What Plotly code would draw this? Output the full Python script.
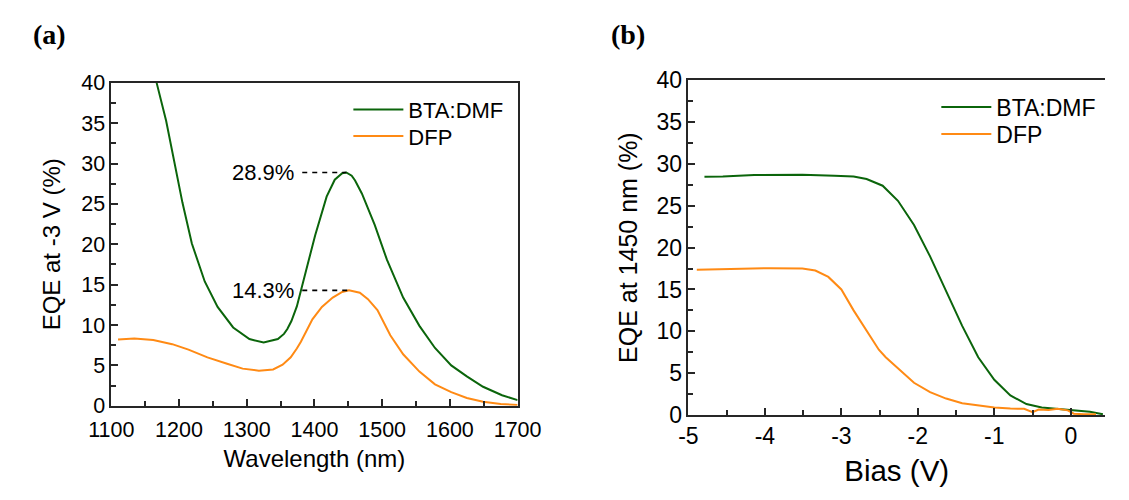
import plotly.graph_objects as go

# ---------------- data: panel (a) ----------------
wl_bta = [1160, 1167, 1181, 1193, 1205, 1219, 1238, 1257, 1280, 1304, 1325, 1346,
          1355, 1360, 1366, 1374, 1380, 1390, 1401, 1418, 1430, 1441, 1447, 1455,
          1460, 1470, 1489, 1507, 1531, 1555, 1578, 1602, 1625, 1649, 1677, 1700]
eqe_bta = [42.6, 40.0, 35.3, 30.3, 25.2, 20.1, 15.4, 12.25, 9.7, 8.26, 7.83, 8.26,
           8.9, 9.5, 10.5, 12.3, 14.3, 17.5, 21.1, 25.9, 28.0, 28.8, 28.9, 28.5,
           27.9, 26.3, 22.4, 18.1, 13.4, 9.9, 7.16, 5.0, 3.64, 2.35, 1.3, 0.7]

wl_dfp = [1110, 1134, 1162, 1190, 1214, 1242, 1271, 1294, 1318, 1339, 1353, 1365,
          1374, 1380, 1397, 1411, 1427, 1441, 1451, 1467, 1479, 1493, 1512, 1531,
          1555, 1578, 1602, 1625, 1649, 1675, 1700]
eqe_dfp = [8.2, 8.33, 8.14, 7.63, 6.96, 5.99, 5.2, 4.6, 4.34, 4.5, 5.08, 6.0,
           7.1, 7.94, 10.7, 12.25, 13.4, 14.1, 14.3, 14.0, 13.2, 11.86, 8.73, 6.38,
           4.23, 2.66, 1.68, 0.97, 0.5, 0.22, 0.1]

peak_bta = 28.9
peak_bta_wl = 1447
peak_dfp = 14.3
peak_dfp_wl = 1449
guide_start_wl = 1382

wl_ticks = [1100, 1200, 1300, 1400, 1500, 1600, 1700]
eqe_ticks = [0, 5, 10, 15, 20, 25, 30, 35, 40]

# ---------------- data: panel (b) ----------------
bias_bta = [-4.79, -4.55, -4.14, -3.51, -3.09, -2.84, -2.67, -2.46, -2.26, -2.05,
            -1.84, -1.63, -1.42, -1.21, -1.0, -0.79, -0.58, -0.38, 0.0, 0.25, 0.42]
eqe1450_bta = [28.48, 28.5, 28.67, 28.7, 28.6, 28.5, 28.2, 27.4, 25.6, 22.7,
               18.96, 14.8, 10.65, 6.9, 4.2, 2.34, 1.3, 0.9, 0.64, 0.38, 0.08]

bias_dfp = [-4.89, -4.34, -3.93, -3.51, -3.34, -3.17, -3.0, -2.84, -2.67, -2.51,
            -2.42, -2.26, -2.05, -1.84, -1.63, -1.42, -1.21, -1.0, -0.79, -0.61,
            -0.5, -0.42, -0.29, -0.17, -0.04, 0.04, 0.17, 0.33]
eqe1450_dfp = [17.37, 17.5, 17.55, 17.5, 17.26, 16.5, 15.0, 12.5, 10.1, 7.8,
               6.9, 5.55, 3.85, 2.72, 1.96, 1.39, 1.1, 0.9, 0.76, 0.73,
               0.34, 0.64, 0.6, 0.73, 0.55, 0.15, 0.08, 0.08]

bias_ticks = [-5, -4, -3, -2, -1, 0]
bias_ticktext = ["-5", "-4", "-3", "-2", "-1", "0"]

names = ["BTA:DMF", "DFP"]
GREEN = "#0b650b"
ORANGE = "#ff8a14"
FONT = "Liberation Sans, Arial, sans-serif"
SERIF = "Liberation Serif, Times New Roman, serif"
AXC = "#262626"

W, H = 1129, 500
fig = go.Figure()

fig.add_trace(go.Scatter(x=wl_bta, y=eqe_bta, mode="lines", name=names[0],
                         line=dict(color=GREEN, width=2), xaxis="x", yaxis="y",
                         legend="legend", showlegend=True))
fig.add_trace(go.Scatter(x=wl_dfp, y=eqe_dfp, mode="lines", name=names[1],
                         line=dict(color=ORANGE, width=2), xaxis="x", yaxis="y",
                         legend="legend3", showlegend=True))
fig.add_trace(go.Scatter(x=bias_bta, y=eqe1450_bta, mode="lines", name=names[0],
                         line=dict(color=GREEN, width=2), xaxis="x2", yaxis="y2",
                         legend="legend2", showlegend=True))
fig.add_trace(go.Scatter(x=bias_dfp, y=eqe1450_dfp, mode="lines", name=names[1],
                         line=dict(color=ORANGE, width=2), xaxis="x2", yaxis="y2",
                         legend="legend4", showlegend=True))

# dashed guides to peaks
for pk, pkwl in [(peak_bta, peak_bta_wl), (peak_dfp, peak_dfp_wl)]:
    fig.add_shape(type="line", xref="x", yref="y", x0=guide_start_wl, x1=pkwl,
                  y0=pk, y1=pk, line=dict(color="black", width=1.6, dash="5px,5px"))
    fig.add_annotation(xref="x", yref="y", x=guide_start_wl, y=pk,
                       text=f"{pk:.1f}%", showarrow=False, xanchor="right",
                       yanchor="middle", xshift=-6,
                       font=dict(family=FONT, size=22, color="black"))

# panel labels
fig.add_annotation(xref="paper", yref="paper", x=8 / W, y=1 - 22.5 / H,
                   text="<b>(a)</b>", showarrow=False, xanchor="left", yanchor="middle",
                   font=dict(family=SERIF, size=28, color="black"))
fig.add_annotation(xref="paper", yref="paper", x=611 / W, y=1 - 23 / H,
                   text="<b>(b)</b>", showarrow=False, xanchor="left", yanchor="middle",
                   font=dict(family=SERIF, size=28, color="black"))

common_axis = dict(showline=True, linecolor=AXC, linewidth=1.5, showgrid=False,
                   zeroline=False, ticks="inside", ticklen=7, tickwidth=1.5,
                   tickcolor=AXC)
minor_y = dict(tickvals=[2.5 + 5 * i for i in range(8)], ticks="inside",
               ticklen=5, tickwidth=1.5, tickcolor=AXC)


def leg(xpx, ypx, size):
    return dict(x=xpx / W, y=1 - ypx / H, xanchor="left", yanchor="middle",
                bgcolor="rgba(0,0,0,0)", font=dict(size=size, family=FONT),
                itemwidth=50, visible=True)


fig.update_layout(
    width=W, height=H,
    margin=dict(l=0, r=0, t=0, b=0),
    paper_bgcolor="white", plot_bgcolor="white",
    font=dict(family=FONT, color="black"),
    showlegend=True,
    xaxis=dict(domain=[92.1 / W, 516.1 / W], range=[1100, 1700], anchor="y",
               tickmode="array", tickvals=wl_ticks, ticklabelstandoff=4,
               minor=dict(tickvals=[t + 50 for t in wl_ticks[:-1]], ticks="inside",
                          ticklen=5, tickwidth=1.5, tickcolor=AXC),
               mirror=True, tickfont=dict(size=21.5),
               title=dict(text="Wavelength (nm)", font=dict(size=24), standoff=9),
               **common_axis),
    yaxis=dict(domain=[1 - 414.3 / H, 1 - 73.7 / H], range=[0, 40], anchor="x",
               tickmode="array", tickvals=eqe_ticks, minor=minor_y,
               mirror=True, tickfont=dict(size=21.5),
               title=dict(text="EQE at -3 V (%)", font=dict(size=24), standoff=14),
               **common_axis),
    xaxis2=dict(domain=[694.3 / W, 1.0], range=[-5, -5 + (W - 694.3) / 79.8],
                anchor="y2", tickmode="array", tickvals=bias_ticks,
                ticktext=bias_ticktext,
                minor=dict(tickvals=[t + 0.5 for t in bias_ticks[:-1]], ticks="inside",
                           ticklen=5, tickwidth=1.5, tickcolor=AXC),
                mirror=True, tickfont=dict(size=23),
                title=dict(text="Bias (V)", font=dict(size=29.5), standoff=12),
                **common_axis),
    yaxis2=dict(domain=[1 - 424 / H, 1 - 71 / H], range=[0, 40], anchor="x2",
                tickmode="array", tickvals=eqe_ticks, minor=minor_y,
                tickfont=dict(size=23),
                title=dict(text="EQE at 1450 nm (%)", font=dict(size=25), standoff=12),
                **common_axis),
    legend=leg(339.5, 102, 22),
    legend3=leg(339.5, 130, 22),
    legend2=leg(953, 99.3, 23),
    legend4=leg(953, 127.7, 23),
)

fig.write_html("out.html")
